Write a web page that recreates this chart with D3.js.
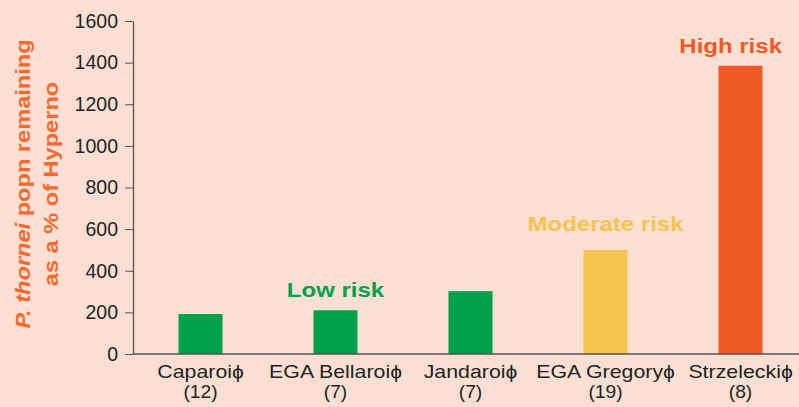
<!DOCTYPE html>
<html>
<head>
<meta charset="utf-8">
<script src="https://cdn.jsdelivr.net/npm/d3@7"></script>
<style>
  body { margin: 0; background: #fbdfd3; }
  svg { display: block; font-family: "Liberation Sans", Arial, sans-serif; }
  .axis path, .axis line { stroke: #5a5152; }
  .axis text { font-size: 19.5px; fill: #231f20; }
</style>
</head>
<body>
<div id="chart"></div>
<script>
// DATA
var cultivars = ["Caparoi\u0278", "EGA Bellaroi\u0278", "Jandaroi\u0278", "EGA Gregory\u0278", "Strzelecki\u0278"];
var sampleCounts = ["(12)", "(7)", "(7)", "(19)", "(8)"];
var popnPercent = [192, 210, 302, 500, 1385];
var barColors = ["#00a14b", "#00a14b", "#00a14b", "#f4c44f", "#f05a24"];
var yTicks = [0, 200, 400, 600, 800, 1000, 1200, 1400, 1600];

// risk annotations: which cultivar they sit over and the value level of the text baseline
var riskLabels = ["Low risk", "Moderate risk", "High risk"];
var riskCultivar = ["EGA Bellaroi\u0278", "EGA Gregory\u0278", "Strzelecki\u0278"];
var riskLevel = [274, 593, 1446];
var riskColors = ["#00a14b", "#f4c44f", "#f05a24"];

// SVG SETUP
var width = 799, height = 407;
var margin = { top: 21, left: 133, bottom: 53 };

var svg = d3.select("#chart").append("svg")
  .attr("width", width)
  .attr("height", height);

var x = d3.scaleBand()
  .domain(cultivars)
  .range([margin.left, margin.left + 675])
  .paddingInner(0.674)
  .paddingOuter(0.337);

var y = d3.scaleLinear()
  .domain([0, 1600])
  .range([height - margin.bottom, margin.top]);

function mid(d) { return x(d) + x.bandwidth() / 2; }

// BARS
svg.append("g")
  .selectAll("rect")
  .data(cultivars)
  .enter()
  .append("rect")
  .attr("x", function(d) { return x(d); })
  .attr("width", x.bandwidth())
  .attr("y", function(d, i) { return y(popnPercent[i]); })
  .attr("height", function(d, i) { return y(0) - y(popnPercent[i]); })
  .attr("fill", function(d, i) { return barColors[i]; });

// Y AXIS
var yAxis = svg.append("g")
  .attr("class", "axis")
  .attr("transform", "translate(" + margin.left + ",0)")
  .call(d3.axisLeft(y).tickValues(yTicks).tickFormat(d3.format("d"))
    .tickSize(8).tickPadding(7).tickSizeOuter(0));
yAxis.select(".domain").attr("stroke-width", 1.3);

// BASELINE
svg.append("line")
  .attr("x1", margin.left)
  .attr("x2", width)
  .attr("y1", y(0))
  .attr("y2", y(0))
  .attr("stroke", "#5a5152")
  .attr("stroke-width", 1.3);

// X LABELS (glyphs are a bit wider than Arial in the original, so stretch horizontally)
svg.append("g")
  .selectAll("text")
  .data(cultivars)
  .enter()
  .append("text")
  .attr("transform", function(d) { return "translate(" + mid(d) + ",378) scale(1.22,1)"; })
  .attr("text-anchor", "middle")
  .style("font-size", "17.5px")
  .attr("fill", "#231f20")
  .text(function(d) { return d; });

svg.append("g")
  .selectAll("text")
  .data(cultivars)
  .enter()
  .append("text")
  .attr("transform", function(d) { return "translate(" + mid(d) + ",398) scale(1.1,1)"; })
  .attr("text-anchor", "middle")
  .style("font-size", "17.5px")
  .attr("fill", "#231f20")
  .text(function(d, i) { return sampleCounts[i]; });

// RISK ANNOTATIONS (kept inside the right edge)
var stretch = 1.2;
svg.append("g")
  .selectAll("text")
  .data(riskLabels)
  .enter()
  .append("text")
  .attr("text-anchor", "middle")
  .attr("fill", function(d, i) { return riskColors[i]; })
  .style("font-size", "20px")
  .style("font-weight", "bold")
  .text(function(d) { return d; })
  .attr("transform", function(d, i) {
    var half = this.getComputedTextLength() * stretch / 2;
    var cx = Math.min(mid(riskCultivar[i]), width - 17 - half);
    return "translate(" + cx + "," + y(riskLevel[i]) + ") scale(" + stretch + ",1)";
  });

// Y TITLE
var yTitle = svg.append("text")
  .attr("transform", "translate(30,184) rotate(-90) scale(1.18,1)")
  .attr("text-anchor", "middle")
  .attr("fill", "#f26a2e")
  .style("font-size", "20px")
  .style("font-weight", "bold");
var line1 = yTitle.append("tspan").attr("x", 0).attr("y", 0);
line1.append("tspan").style("font-style", "italic").text("P. thornei");
line1.append("tspan").text(" popn remaining");
yTitle.append("tspan").attr("x", 0).attr("y", 28).text("as a % of Hyperno");
</script>
</body>
</html>
